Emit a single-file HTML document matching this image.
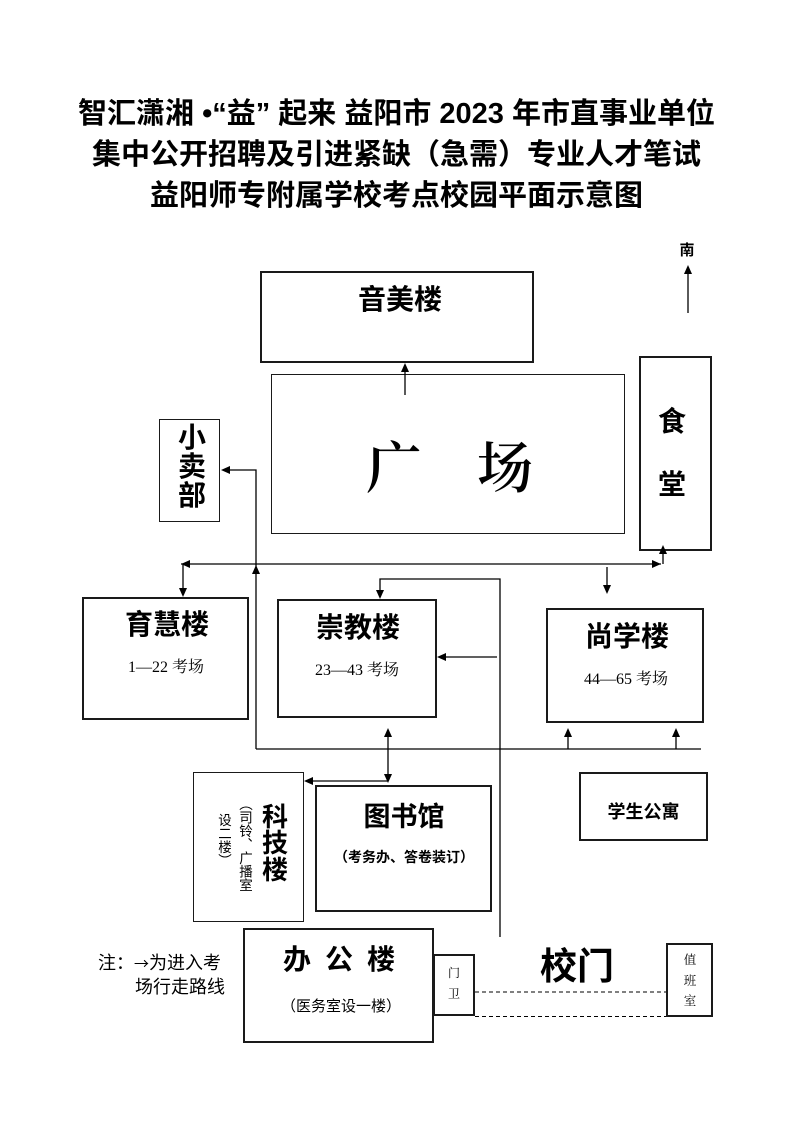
<!DOCTYPE html>
<html>
<head>
<meta charset="utf-8">
<style>
html,body{margin:0;padding:0;background:#fff;}
#page{position:relative;width:793px;height:1122px;overflow:hidden;background:#fff;}
.t{position:absolute;text-align:center;white-space:nowrap;color:#000;}
.b{font-family:"Liberation Sans","Noto Sans CJK SC",sans-serif;font-weight:bold;}
.n{font-family:"Liberation Sans","Noto Sans CJK SC",sans-serif;font-weight:normal;}
.s{font-family:"Liberation Serif","Noto Serif CJK SC",serif;font-weight:normal;}
.box{position:absolute;box-sizing:border-box;border:2px solid #1a1a1a;background:transparent;}
.v{writing-mode:vertical-rl;text-orientation:mixed;}
svg{position:absolute;left:0;top:0;}
</style>
</head>
<body>
<div id="page">

<!-- Title -->
<div class="t b" style="left:0;top:99px;width:793px;font-size:29px;line-height:30px;">智汇潇湘 •“益” 起来 益阳市 2023 年市直事业单位</div>
<div class="t b" style="left:0;top:140px;width:793px;font-size:29px;line-height:30px;">集中公开招聘及引进紧缺（急需）专业人才笔试</div>
<div class="t b" style="left:0;top:181px;width:793px;font-size:29px;line-height:30px;">益阳师专附属学校考点校园平面示意图</div>

<!-- Boxes -->
<div class="box" style="left:260px;top:271px;width:274px;height:92px;"></div>
<div class="box" style="left:271px;top:374px;width:354px;height:160px;border-width:1.5px;"></div>
<div class="box" style="left:639px;top:356px;width:73px;height:195px;"></div>
<div class="box" style="left:159px;top:419px;width:61px;height:103px;border-width:1px;"></div>
<div class="box" style="left:82px;top:597px;width:167px;height:123px;"></div>
<div class="box" style="left:277px;top:599px;width:160px;height:119px;"></div>
<div class="box" style="left:546px;top:608px;width:158px;height:115px;"></div>
<div class="box" style="left:193px;top:772px;width:111px;height:150px;border-width:1px;"></div>
<div class="box" style="left:315px;top:785px;width:177px;height:127px;border-width:2.5px;"></div>
<div class="box" style="left:579px;top:772px;width:129px;height:69px;"></div>
<div class="box" style="left:243px;top:928px;width:191px;height:115px;"></div>
<div class="box" style="left:433px;top:954px;width:42px;height:62px;"></div>
<div class="box" style="left:666px;top:943px;width:47px;height:74px;"></div>

<!-- Lines & arrows -->
<svg width="793" height="1122" viewBox="0 0 793 1122">
<g stroke="#000" stroke-width="1.3" fill="none">
  <line x1="688" y1="313" x2="688" y2="272"/>
  <line x1="405" y1="395" x2="405" y2="370"/>
  <polyline points="256,749 256,470 228,470"/>
  <line x1="181" y1="564" x2="661" y2="564"/>
  <line x1="183" y1="564" x2="183" y2="590"/>
  <line x1="663" y1="564" x2="663" y2="552"/>
  <line x1="607" y1="567" x2="607" y2="587"/>
  <polyline points="500,937 500,579 380,579 380,592"/>
  <line x1="497" y1="657" x2="444" y2="657"/>
  <line x1="256" y1="749" x2="701" y2="749"/>
  <line x1="568" y1="749" x2="568" y2="735"/>
  <line x1="676" y1="749" x2="676" y2="735"/>
  <line x1="388" y1="735" x2="388" y2="776"/>
  <line x1="388" y1="781" x2="311" y2="781"/>
</g>
<g fill="#000" stroke="none">
  <polygon points="688,265 684,274 692,274"/>
  <polygon points="405,363 401,372 409,372"/>
  <polygon points="256,565 252,574 260,574"/>
  <polygon points="663,545 659,554 667,554"/>
  <polygon points="568,728 564,737 572,737"/>
  <polygon points="676,728 672,737 680,737"/>
  <polygon points="388,728 384,737 392,737"/>
  <polygon points="183,597 179,588 187,588"/>
  <polygon points="607,594 603,585 611,585"/>
  <polygon points="380,599 376,590 384,590"/>
  <polygon points="388,783 384,774 392,774"/>
  <polygon points="221,470 230,466 230,474"/>
  <polygon points="181,564 190,560 190,568"/>
  <polygon points="437,657 446,653 446,661"/>
  <polygon points="304,781 313,777 313,785"/>
  <polygon points="661,564 652,560 652,568"/>
</g>
<g stroke="#000" stroke-width="1" stroke-dasharray="4,3" fill="none">
  <line x1="475" y1="992" x2="666" y2="992"/>
  <line x1="475" y1="1016.5" x2="666" y2="1016.5"/>
</g>
</svg>

<!-- Labels -->
<div class="t b" style="left:667px;top:243px;width:40px;font-size:15px;line-height:16px;">南</div>
<div class="t b" style="left:300px;top:286px;width:200px;font-size:28px;line-height:28px;">音美楼</div>
<div class="t s" style="left:354px;top:442px;width:80px;font-size:56px;line-height:56px;font-weight:600;">广</div>
<div class="t s" style="left:465px;top:442px;width:80px;font-size:56px;line-height:56px;font-weight:600;">场</div>
<div class="t b" style="left:652px;top:408px;width:40px;font-size:28px;line-height:28px;">食</div>
<div class="t b" style="left:652px;top:471px;width:40px;font-size:28px;line-height:28px;">堂</div>
<div class="t b" style="left:172px;top:424px;width:40px;font-size:28px;line-height:28px;">小</div>
<div class="t b" style="left:172px;top:453px;width:40px;font-size:28px;line-height:28px;">卖</div>
<div class="t b" style="left:172px;top:482px;width:40px;font-size:28px;line-height:28px;">部</div>

<div class="t b" style="left:82px;top:611px;width:170px;font-size:28px;line-height:28px;">育慧楼</div>
<div class="t s" style="left:82px;top:660px;width:168px;font-size:16px;line-height:16px;">1—22 考场</div>
<div class="t b" style="left:277px;top:614px;width:162px;font-size:28px;line-height:28px;">崇教楼</div>
<div class="t s" style="left:277px;top:663px;width:160px;font-size:16px;line-height:16px;">23—43 考场</div>
<div class="t b" style="left:546px;top:623px;width:162px;font-size:28px;line-height:28px;">尚学楼</div>
<div class="t s" style="left:546px;top:672px;width:160px;font-size:16px;line-height:16px;">44—65 考场</div>

<div class="t b" style="left:262px;top:804px;width:26px;font-size:26px;line-height:26px;">科</div>
<div class="t b" style="left:262px;top:830px;width:26px;font-size:26px;line-height:26px;">技</div>
<div class="t b" style="left:262px;top:857px;width:26px;font-size:26px;line-height:26px;">楼</div>
<div class="t n v" style="left:237px;top:797px;width:15px;font-size:13.5px;line-height:15px;">（司铃、广播室</div>
<div class="t n v" style="left:216px;top:813px;width:15px;font-size:13.5px;line-height:15px;">设二楼）</div>

<div class="t b" style="left:315px;top:803px;width:178px;font-size:27px;line-height:28px;">图书馆</div>
<div class="t b" style="left:315px;top:849px;width:178px;font-size:14px;line-height:16px;">（考务办、答卷装订）</div>

<div class="t b" style="left:579px;top:803px;width:129px;font-size:18px;line-height:18px;">学生公寓</div>

<div class="t b" style="left:283px;top:946px;width:28px;font-size:28px;line-height:28px;">办</div>
<div class="t b" style="left:325px;top:946px;width:28px;font-size:28px;line-height:28px;">公</div>
<div class="t b" style="left:367px;top:946px;width:28px;font-size:28px;line-height:28px;">楼</div>
<div class="t n" style="left:243px;top:999px;width:196px;font-size:15px;line-height:16px;">（医务室设一楼）</div>

<div class="t s" style="left:434px;top:967px;width:40px;font-size:12px;line-height:12px;">门</div>
<div class="t s" style="left:434px;top:988px;width:40px;font-size:12px;line-height:12px;">卫</div>

<div class="t b" style="left:527px;top:948px;width:100px;font-size:37px;line-height:38px;">校门</div>

<div class="t s" style="left:670px;top:954px;width:40px;font-size:12.5px;line-height:13px;">值</div>
<div class="t s" style="left:670px;top:975px;width:40px;font-size:12.5px;line-height:13px;">班</div>
<div class="t s" style="left:670px;top:995px;width:40px;font-size:12.5px;line-height:13px;">室</div>

<div class="t n" style="left:98px;top:953px;text-align:left;font-size:18px;line-height:20px;">注：<span style="font-family:'Noto Sans CJK SC',sans-serif;font-size:15px;">→</span>为进入考</div>
<div class="t n" style="left:135px;top:977px;text-align:left;font-size:18px;line-height:20px;">场行走路线</div>

</div>
</body>
</html>
